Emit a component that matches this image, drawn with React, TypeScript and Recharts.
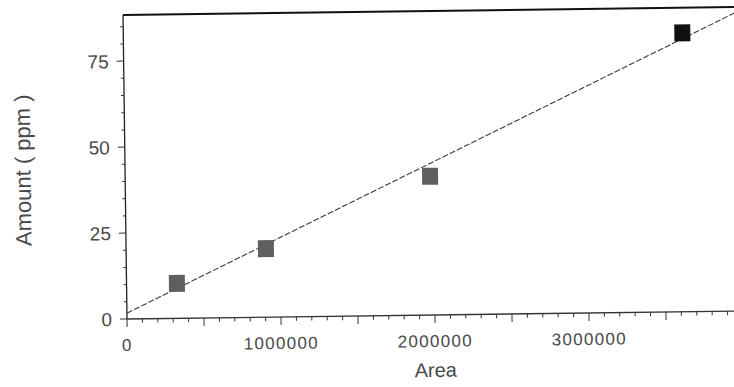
import React from 'react';
import { ScatterChart, Scatter, XAxis, YAxis, ReferenceLine } from 'recharts';

// Calibration points
const areaValues = [327000, 908000, 1980000, 3630000];
const amountValues = [10.3, 20.1, 40.5, 81.2];
const markerColors = ['#5e5e5e', '#5e5e5e', '#5e5e5e', '#111111'];

// Fitted calibration line (end points)
const fitArea = [0, 4000000];
const fitAmount = [1.7, 87.3];

// Axis ticks
const xTickLabels = [0, 1000000, 2000000, 3000000];
const yTickLabels = [0, 25, 50, 75];
const xTicks = [
  0, 100000, 200000, 300000, 400000, 500000, 600000, 700000, 800000, 900000,
  1000000, 1100000, 1200000, 1300000, 1400000, 1500000, 1600000, 1700000, 1800000, 1900000,
  2000000, 2100000, 2200000, 2300000, 2400000, 2500000, 2600000, 2700000, 2800000, 2900000,
  3000000, 3100000, 3200000, 3300000, 3400000, 3500000, 3600000, 3700000, 3800000, 3900000,
  4000000,
];
const yTicks = [0, 5, 10, 15, 20, 25, 30, 35, 40, 45, 50, 55, 60, 65, 70, 75, 80, 85];
const xMax = 4000000;
const yMax = 88.4;

const points = areaValues.map((a, i) => ({ area: a, amount: amountValues[i], color: markerColors[i] }));
const fitData = fitArea.map((a, i) => ({ area: a, amount: fitAmount[i] }));

const FONT = '"Liberation Sans", Arial, Helvetica, sans-serif';
const TEXT = '#4a4a4a';
const AXIS = '#333333';

const Square = (props: any) => {
  const { cx, cy, payload } = props;
  if (cx == null || cy == null) return <g />;
  return <rect x={cx - 8} y={cy - 8} width={16} height={17} fill={payload.color} />;
};

const XTick = (props: any) => {
  const { x, y, payload } = props;
  const v = payload.value;
  const major = v % 500000 === 0;
  return (
    <g>
      <line x1={x} x2={x} y1={y} y2={y + (major ? 8 : 4)} stroke={AXIS} strokeWidth={1} />
      {xTickLabels.includes(v) && (
        <text x={x} y={y + 32} textAnchor="middle" fontSize={17} letterSpacing={1.3} fill={TEXT} fontFamily={FONT}>
          {String(v)}
        </text>
      )}
    </g>
  );
};

const YTick = (props: any) => {
  const { x, y, payload } = props;
  const v = payload.value;
  const major = v % 25 === 0;
  return (
    <g>
      <line x1={x - (major ? 7 : 3)} x2={x} y1={y} y2={y} stroke={AXIS} strokeWidth={1} />
      {yTickLabels.includes(v) && (
        <text x={x - 15} y={y + 7} textAnchor="end" fontSize={19} fill={TEXT} fontFamily={FONT}>
          {String(v)}
        </text>
      )}
    </g>
  );
};

const XTitle = (props: any) => {
  const vb = props.viewBox || { x: 127, y: 319, width: 616, height: 68 };
  return (
    <text x={vb.x + vb.width / 2} y={vb.y + 62} textAnchor="middle" fontSize={20} fill={TEXT} fontFamily={FONT}>
      Area
    </text>
  );
};

const YTitle = (props: any) => {
  const vb = props.viewBox || { x: 0, y: 15, width: 127, height: 304 };
  const cx = 25;
  const cy = vb.y + vb.height / 2 + 2;
  return (
    <text
      x={cx}
      y={cy}
      transform={`rotate(-90, ${cx}, ${cy})`}
      textAnchor="middle"
      dominantBaseline="central"
      fontSize={22}
      fill={TEXT}
      fontFamily={FONT}
    >
      Amount ( ppm )
    </text>
  );
};

export default function App() {
  return (
    <div
      style={{
        position: 'absolute',
        left: 0,
        top: 0,
        width: 734,
        height: 387,
        overflow: 'hidden',
        background: '#ffffff',
      }}
    >
      <div style={{ transform: 'rotate(-0.75deg)', transformOrigin: '127px 319px', width: 760, height: 387 }}>
        <ScatterChart width={760} height={387} margin={{ top: 15, right: 17, bottom: 0, left: 0 }}>
          <XAxis
            type="number"
            dataKey="area"
            domain={[0, xMax]}
            ticks={xTicks}
            interval={0}
            tickSize={0}
            tickMargin={0}
            tickLine={false}
            tick={<XTick />}
            axisLine={{ stroke: AXIS, strokeWidth: 1.3 }}
            height={68}
            allowDataOverflow
            label={(p: any) => <XTitle {...p} />}
          />
          <YAxis
            type="number"
            dataKey="amount"
            domain={[0, yMax]}
            ticks={yTicks}
            interval={0}
            tickSize={0}
            tickMargin={0}
            tickLine={false}
            tick={<YTick />}
            axisLine={{ stroke: '#222', strokeWidth: 1.3 }}
            width={127}
            allowDataOverflow
            label={(p: any) => <YTitle {...p} />}
          />
          <ReferenceLine y={yMax} stroke="#111" strokeWidth={2} ifOverflow="visible" />
          <Scatter
            data={fitData}
            line={{ stroke: '#3a3a3a', strokeWidth: 1.1, strokeDasharray: '6 2' }}
            shape={() => <g />}
            isAnimationActive={false}
          />
          <Scatter data={points} shape={<Square />} isAnimationActive={false} />
        </ScatterChart>
      </div>
    </div>
  );
}
